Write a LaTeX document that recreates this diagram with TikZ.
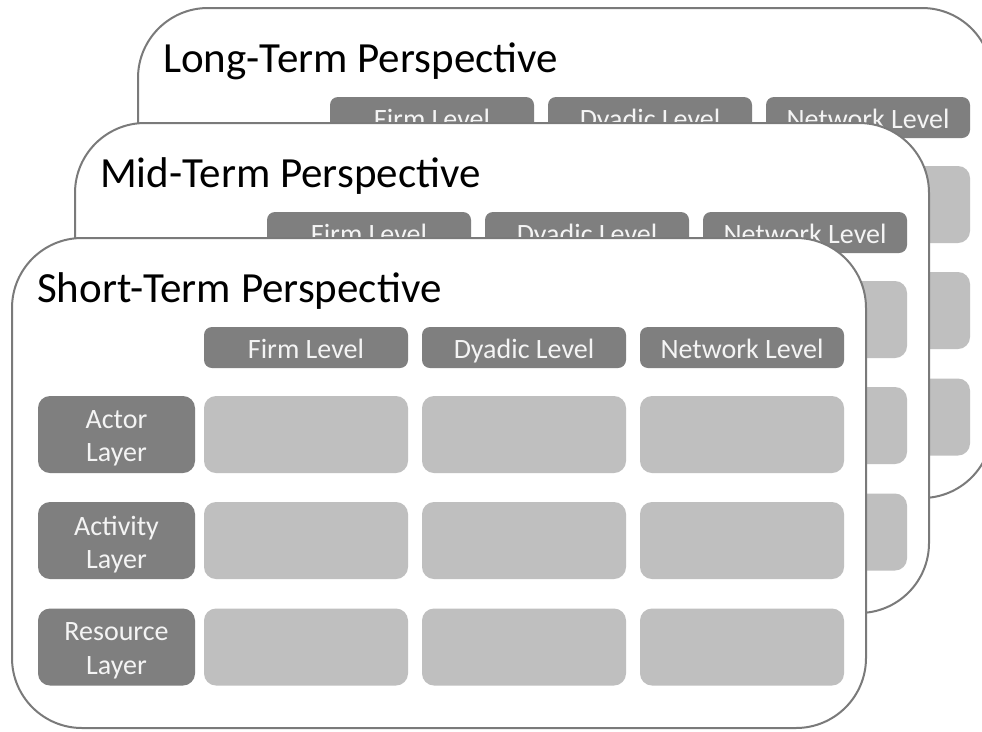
\documentclass[tikz,border=0pt]{standalone}
\usepackage{fontspec}
\setmainfont{Carlito}
\definecolor{hdrgray}{HTML}{7F7F7F}
\definecolor{cellgray}{HTML}{BFBFBF}
\definecolor{bordergray}{HTML}{7A7A7A}
\definecolor{hdrtext}{HTML}{F4F4F4}
\tikzset{
  card/.style={draw=bordergray, line width=2pt, fill=white, rounded corners=70pt,
    minimum width=854pt, minimum height=490pt, inner sep=0pt},
  hdr/.style={fill=hdrgray, rounded corners=8pt, minimum width=204pt, minimum height=41pt,
    inner sep=0pt, text=hdrtext, text height=21pt, text depth=0pt,
    font=\fontsize{28}{33}\selectfont},
  rowlab/.style={fill=hdrgray, rounded corners=12pt, minimum width=157pt, minimum height=77pt,
    inner sep=0pt},
  rowtxt/.style={inner sep=0pt, yshift=-4pt, text=hdrtext, align=center,
    font=\fontsize{28}{33.5}\selectfont},
  cell/.style={fill=cellgray, rounded corners=12pt, minimum width=204pt, minimum height=77pt,
    inner sep=0pt},
  ttl/.style={anchor=base west, inner sep=0pt, text=black, font=\fontsize{43}{50}\selectfont}
}
\newcommand{\perspcard}[4]{%
  \begin{scope}[shift={(#2,#3)}]
    \node[card] (#1card) at (439,483) {};
    \node[ttl] (#1title) at (37,302) {#4};
    \node[hdr] (#1firm) at (306,347.5) {Firm Level};
    \node[hdr] (#1dyad) at (524,347.5) {Dyadic Level};
    \node[hdr] (#1netw) at (742,347.5) {Network Level};
    \node[cell] (#1c11) at (306,434.5) {};
    \node[cell] (#1c12) at (524,434.5) {};
    \node[cell] (#1c13) at (742,434.5) {};
    \node[cell] (#1c21) at (306,540.5) {};
    \node[cell] (#1c22) at (524,540.5) {};
    \node[cell] (#1c23) at (742,540.5) {};
    \node[cell] (#1c31) at (306,647) {};
    \node[cell] (#1c32) at (524,647) {};
    \node[cell] (#1c33) at (742,647) {};
  \end{scope}}
\begin{document}
\begin{tikzpicture}[x=1pt,y=-1pt]
  \useasboundingbox (0,0) rectangle (982,731);
  \clip (0,0) rectangle (982,731);
  \fill[white] (0,0) rectangle (982,731);
  \perspcard{l}{126}{-230}{Long-Term Perspective}
  \perspcard{m}{63}{-115}{Mid-Term Perspective}
  \perspcard{s}{0}{0}{Short-Term Perspective}
  \node[rowlab] (sactor) at (116.5,434.5) {};
  \node[rowlab] (sactivity) at (116.5,540.5) {};
  \node[rowlab] (sresource) at (116.5,647) {};
  \node[rowtxt] (sactortxt) at (sactor.center) {Actor\\Layer};
  \node[rowtxt] (sactivitytxt) at (sactivity.center) {Activity\\Layer};
  \node[rowtxt] (sresourcetxt) at (sresource.center) {Resource\\Layer};
\end{tikzpicture}
\end{document}
